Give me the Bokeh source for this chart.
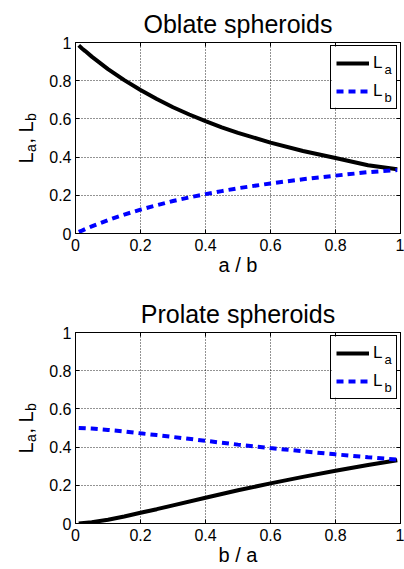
import numpy as np
from bokeh.plotting import figure
from bokeh.layouts import column, row
from bokeh.models import Range1d, LinearAxis, FixedTicker, Legend, LegendItem
from bokeh.core.properties import value
from bokeh.embed import file_html
from bokeh.resources import INLINE

# ---- data ----
ratio_oblate = [0.01, 0.02, 0.03, 0.05, 0.1, 0.15, 0.2, 0.25, 0.3, 0.35, 0.4, 0.45, 0.5, 0.6, 0.7, 0.8, 0.9, 0.99]
oblate_La = [0.985, 0.969, 0.955, 0.926, 0.861, 0.803, 0.751, 0.704, 0.661, 0.623, 0.588, 0.556, 0.527, 0.476, 0.432, 0.395, 0.357, 0.336]
oblate_Lb = [0.008, 0.015, 0.023, 0.037, 0.070, 0.099, 0.125, 0.148, 0.170, 0.189, 0.206, 0.222, 0.237, 0.262, 0.284, 0.303, 0.321, 0.332]

ratio_prolate = [0.01, 0.05, 0.1, 0.15, 0.2, 0.25, 0.3, 0.4, 0.5, 0.6, 0.7, 0.8, 0.9, 0.99]
prolate_La = [0.000, 0.007, 0.020, 0.037, 0.056, 0.075, 0.095, 0.135, 0.174, 0.210, 0.244, 0.276, 0.306, 0.331]
prolate_Lb = [0.500, 0.497, 0.490, 0.482, 0.472, 0.463, 0.453, 0.433, 0.413, 0.395, 0.378, 0.362, 0.347, 0.335]

tick_values = [0, 0.2, 0.4, 0.6, 0.8, 1]
tick_labels = ["0", "0.2", "0.4", "0.6", "0.8", "1"]
titles = ["Oblate spheroids", "Prolate spheroids"]
x_labels = ["a / b", "b / a"]
series_names = ["L", "L"]
series_subs = ["a", "b"]
ylabel_main = ["L", ", L"]
ylabel_subs = ["a", "b"]

FONT = "Liberation Sans"
LABEL_W = 40
TOP = 42


def style_axis(ax):
    ax.ticker = FixedTicker(ticks=tick_values)
    ax.major_label_overrides = {v: t for v, t in zip(tick_values, tick_labels)}
    ax.major_tick_in = 4
    ax.major_tick_out = 0
    ax.minor_tick_line_color = None
    ax.axis_line_color = "black"
    ax.major_tick_line_color = "black"
    ax.major_label_text_font = FONT
    ax.major_label_text_color = "black"
    ax.major_label_text_font_size = "16px"


def mirror_axis():
    # ticks only (as minor ticks, so no labels are drawn)
    ax = LinearAxis(ticker=FixedTicker(ticks=[], minor_ticks=tick_values))
    ax.minor_tick_in = 4
    ax.minor_tick_out = 0
    ax.minor_tick_line_color = "black"
    ax.major_tick_line_color = None
    ax.axis_line_color = "black"
    ax.major_label_standoff = 0
    return ax


def make_ylabel(height, bottom):
    # a narrow panel with the same vertical frame as the plot; y in plot units
    f = figure(width=LABEL_W, height=height, x_range=Range1d(0, LABEL_W),
               y_range=Range1d(0, 1), output_backend="svg", toolbar_location=None,
               min_border_left=0, min_border_right=0, min_border_top=TOP,
               min_border_bottom=bottom, x_axis_location=None, y_axis_location=None,
               outline_line_color=None, background_fill_color="white",
               border_fill_color="white")
    f.grid.visible = False
    ang = np.pi / 2
    f.text(x=[25, 25], y=[0.366, 0.471], text=ylabel_main, angle=ang,
           text_font=value(FONT), text_font_size=value("20px"), text_baseline="alphabetic",
           text_align="left", text_color="black")
    f.text(x=[30, 30], y=[0.427, 0.589], text=ylabel_subs, angle=ang,
           text_font=value(FONT), text_font_size=value("14px"), text_baseline="alphabetic",
           text_align="left", text_color="black")
    return f


def make(title, xlabel, x, la, lb, height, bottom):
    p = figure(width=404 - LABEL_W, height=height, x_range=Range1d(0, 1), y_range=Range1d(0, 1),
               output_backend="svg", toolbar_location=None,
               min_border_left=75 - LABEL_W, min_border_right=4, min_border_top=TOP,
               min_border_bottom=bottom, background_fill_color="white",
               border_fill_color="white")
    p.title.text = title
    p.title.text_font = FONT
    p.title.text_font_size = "25px"
    p.title.text_font_style = "normal"
    p.title.align = "center"
    p.title.text_color = "black"
    p.title.standoff = 10

    p.outline_line_color = "black"
    p.outline_line_width = 1
    p.outline_line_alpha = 1

    for ax in p.xaxis:
        style_axis(ax)
        ax.major_label_standoff = 5
        ax.axis_label = xlabel
        ax.axis_label_text_font = FONT
        ax.axis_label_text_font_size = "20px"
        ax.axis_label_text_font_style = "normal"
        ax.axis_label_text_color = "black"
        ax.axis_label_standoff = 0
    for ax in p.yaxis:
        style_axis(ax)
        ax.major_label_standoff = 4

    p.add_layout(mirror_axis(), "above")
    p.add_layout(mirror_axis(), "right")

    for g in p.grid:
        g.ticker = FixedTicker(ticks=tick_values)
        g.grid_line_color = "black"
        g.grid_line_dash = "1 2"
        g.grid_line_alpha = 0.85
        g.grid_line_width = 1

    # white backing for the legend box (legend itself is drawn transparent,
    # so that the subscripts below stay visible)
    p.quad(left=[0.791], right=[0.991], bottom=[0.660], top=[0.984],
           fill_color="white", line_color=None)

    r1 = p.line(x, la, line_color="black", line_width=4)
    r2 = p.line(x, lb, line_color="#0000ff", line_width=4, line_dash="7 5")

    legend = Legend(items=[LegendItem(label=series_names[0], renderers=[r1]),
                           LegendItem(label=series_names[1], renderers=[r2])],
                    location="top_right", margin=3, padding=5, spacing=4,
                    glyph_width=33, glyph_height=24, label_height=24, label_width=18,
                    label_standoff=4, border_line_color="black", border_line_width=1.5,
                    border_line_alpha=1, background_fill_alpha=0,
                    label_text_font=FONT, label_text_font_size="17px",
                    label_text_color="black", label_text_baseline="alphabetic")
    p.add_layout(legend)

    # legend subscripts
    p.text(x=[0.951, 0.951], y=[0.859, 0.712], text=series_subs,
           text_font=value(FONT), text_font_size=value("13px"),
           text_baseline="alphabetic", text_align="left", text_color="black")
    return row(make_ylabel(height, bottom), p)


p1 = make(titles[0], x_labels[0], ratio_oblate, oblate_La, oblate_Lb, 290, 57)
p2 = make(titles[1], x_labels[1], ratio_prolate, prolate_La, prolate_Lb, 279, 46)

layout = column(p1, p2)
open("out.html", "w").write(file_html(layout, INLINE))
